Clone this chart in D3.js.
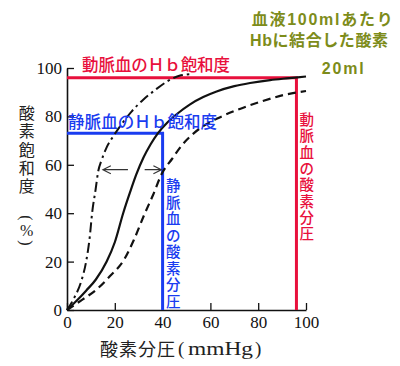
<!DOCTYPE html>
<html><head><meta charset="utf-8">
<script src="https://cdn.jsdelivr.net/npm/d3@7"></script>
<style>html,body{margin:0;padding:0;background:#fff;} svg{display:block;}</style>
</head><body><svg id="c" width="400" height="366"></svg>
<script>
// ---- data ----
const xTicks = [0, 20, 40, 60, 80, 100];
const yTicks = [0, 20, 40, 60, 80, 100];
// [PO2 mmHg, saturation %]
const curveHighAffinity = [[0,0],[3,5],[6,12],[8,20],[9.5,30],[10.5,40],[12,50],[13,57],[14.5,62],[16.5,67],[19.5,72],[23,77],[27,82],[32,87],[37,91],[42,94.5],[47,96.8],[52,97.5]];
const curveNormal = [[0,0],[4,3.8],[8,8],[12,12.5],[16.6,20],[20,28],[23.5,40],[26.5,49],[29,56],[32,63],[35,68.5],[38,73],[42,77.5],[46,81],[51.5,85],[57,88],[62.6,90.3],[70,92.5],[76.6,93.8],[85,95],[93,95.8],[100,96.5]];
const curveLowAffinity = [[0,0],[6,4],[12.4,8.5],[18,14],[24,21],[28,29],[32.6,40],[36,47.5],[39.5,56],[44,62.5],[48,68],[53,73],[57,76],[62.6,79],[71,82.6],[80.8,86],[90.5,88.8],[100,90.5]];
const refPO2 = [96, 40];      // arterial, venous
const refSat = [96, 73];      // arterial, venous
const arrowLeft = [[25.5,58],[15,58]];
const arrowRight = [[32.5,58],[39.5,58]];
const titleLines = ["血液100mlあたり", "Hbに結合した酸素", "20ml"];
const arterialSatLabel = "動脈血のＨｂ飽和度";
const venousSatLabel = "静脈血のＨｂ飽和度";
const arterialPO2Label = "動脈血の酸素分圧";
const venousPO2Label = "静脈血の酸素分圧";
const yTitleChars = ["酸","素","飽","和","度"];
const xTitleMain = "酸素分圧";
const xTitleUnit = "mmHg";

// ---- drawing ----
const RED = "#e8103c", BLUE = "#1a3cf0", OLIVE = "#7d8c1a";
const CJK = "'Noto Sans CJK JP', sans-serif";
const VCJK = "'Liberation Sans', 'Noto Sans CJK JP', sans-serif";
const SERIF = "'Liberation Serif', 'DejaVu Serif', serif";
const svg = d3.select("#c");
svg.append("rect").attr("width",400).attr("height",366).attr("fill","#fff");

const x = d3.scaleLinear().domain([0,100]).range([67,306]);
const y = d3.scaleLinear().domain([0,100]).range([310,68]);

// axes
const gx = svg.append("g").attr("transform",`translate(0,${y(0)})`)
  .call(d3.axisBottom(x).tickValues(xTicks).tickSizeInner(-7).tickSizeOuter(0).tickPadding(6));
const gy = svg.append("g").attr("transform",`translate(${x(0)},0)`)
  .call(d3.axisLeft(y).tickValues(yTicks).tickSizeInner(-7).tickSizeOuter(0).tickPadding(5));
[gx, gy].forEach(g => {
  g.select(".domain").attr("stroke","#111").attr("stroke-width",1.6);
  g.selectAll(".tick line").attr("stroke","#111").attr("stroke-width",1.3);
  g.selectAll(".tick text").attr("fill","#111").style("font-family",SERIF).style("font-size","17px");
});

// reference lines
svg.append("path")
  .attr("d", `M${x(0)},${y(refSat[0])}H${x(refPO2[0])}V${y(0)}`)
  .attr("fill","none").attr("stroke",RED).attr("stroke-width",3);
svg.append("path")
  .attr("d", `M${x(0)},${y(refSat[1])}H${x(refPO2[1])}V${y(0)}`)
  .attr("fill","none").attr("stroke",BLUE).attr("stroke-width",3);

// curves
const line = d3.line().x(d=>x(d[0])).y(d=>y(d[1])).curve(d3.curveMonotoneX);
svg.append("path").datum(curveHighAffinity).attr("d",line)
  .attr("fill","none").attr("stroke","#111").attr("stroke-width",2).attr("stroke-dasharray","10,4,2.5,4");
svg.append("path").datum(curveNormal).attr("d",line)
  .attr("fill","none").attr("stroke","#111").attr("stroke-width",2.2);
svg.append("path").datum(curveLowAffinity).attr("d",line)
  .attr("fill","none").attr("stroke","#111").attr("stroke-width",2.2).attr("stroke-dasharray","8,5");

// arrows
function arrow(pts){
  const [a,b] = pts;
  const x1=x(a[0]), y1=y(a[1]), x2=x(b[0]), y2=y(b[1]);
  const dir = Math.sign(x2-x1);
  svg.append("path").attr("d",`M${x1},${y1}H${x2}M${x2-dir*8},${y2-4}L${x2},${y2}L${x2-dir*8},${y2+4}`)
    .attr("fill","none").attr("stroke","#333").attr("stroke-width",1.1);
}
arrow(arrowLeft); arrow(arrowRight);

// horizontal labels
svg.append("text").attr("x",82).attr("y",70.5).text(arterialSatLabel)
  .attr("fill",RED).style("font-family",CJK).style("font-size","16.5px").style("font-weight","500")
  .attr("textLength",148).attr("lengthAdjust","spacing");
svg.append("text").attr("x",68).attr("y",127.5).text(venousSatLabel)
  .attr("fill",BLUE).style("font-family",CJK).style("font-size","16.5px").style("font-weight","500")
  .attr("textLength",149).attr("lengthAdjust","spacing");

// vertical labels (one glyph per row)
function vtext(chars, cx, cy0, pitch, color, size, weight){
  Array.from(chars).forEach((c,i)=>{
    svg.append("text").attr("x",cx).attr("y",cy0+pitch*i).text(c)
      .attr("text-anchor","middle").attr("dominant-baseline","central")
      .attr("fill",color).style("font-family",VCJK).style("font-size",size+"px").style("font-weight",weight);
  });
}
vtext(arterialPO2Label, 306.7, 120, 16.3, RED, 14.5, "500");
vtext(venousPO2Label, 173.3, 186, 16.5, BLUE, 14.5, "500");
vtext(yTitleChars, 26.7, 113.5, 18.3, "#222", 16, "400");
// (%) vertical
svg.append("text").attr("transform","translate(26.7,218) rotate(90)").text("(")
  .attr("text-anchor","middle").attr("dominant-baseline","central").attr("fill","#222")
  .style("font-family",SERIF).style("font-size","16px");
svg.append("text").attr("x",26.7).attr("y",230.5).text("%")
  .attr("text-anchor","middle").attr("dominant-baseline","central").attr("fill","#222")
  .style("font-family",SERIF).style("font-size","16px");
svg.append("text").attr("transform","translate(26.7,243) rotate(90)").text(")")
  .attr("text-anchor","middle").attr("dominant-baseline","central").attr("fill","#222")
  .style("font-family",SERIF).style("font-size","16px");

// x title
svg.append("text").attr("x",100).attr("y",355.5).text(xTitleMain)
  .attr("fill","#222").style("font-family",CJK).style("font-size","18px").attr("textLength",75).attr("lengthAdjust","spacing");
svg.append("text").attr("x",178).attr("y",354.5).text("(")
  .attr("fill","#222").style("font-family",SERIF).style("font-size","19px");
svg.append("text").attr("x",188).attr("y",354.5).text(xTitleUnit)
  .attr("fill","#222").style("font-family",SERIF).style("font-size","19px").attr("textLength",65).attr("lengthAdjust","spacingAndGlyphs");
svg.append("text").attr("x",255).attr("y",354.5).text(")")
  .attr("fill","#222").style("font-family",SERIF).style("font-size","19px");

// olive annotation
const tl = [{x:251.7,y:24.5,w:141},{x:250,y:45.5,w:138},{x:321.7,y:74,w:42}];
titleLines.forEach((t,i)=>{
  svg.append("text").attr("x",tl[i].x).attr("y",tl[i].y).text(t)
    .attr("fill",OLIVE).style("font-family",VCJK).style("font-size","16px").style("font-weight","bold")
    .attr("textLength",tl[i].w).attr("lengthAdjust","spacing");
});
</script></body></html>
